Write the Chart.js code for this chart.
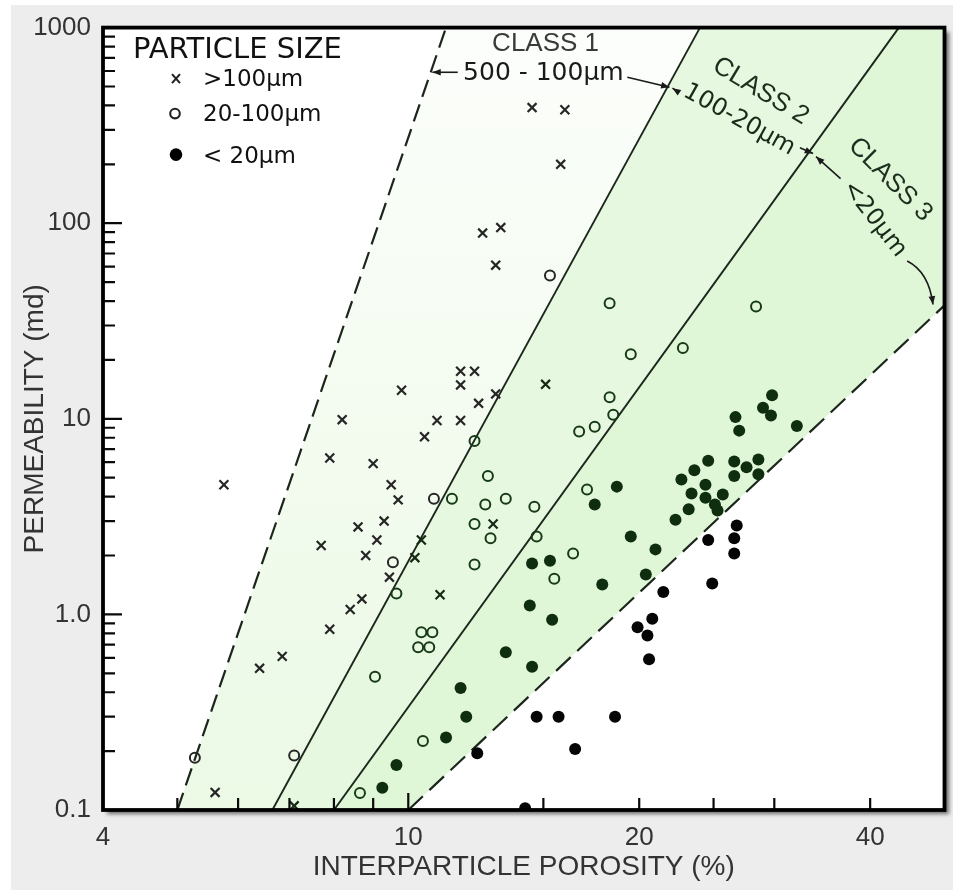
<!DOCTYPE html>
<html><head><meta charset="utf-8">
<script src="https://cdn.jsdelivr.net/npm/chart.js@4.4.1/dist/chart.umd.min.js"></script>
<style>html,body{margin:0;padding:0;background:#fff;}canvas{display:block;}</style>
</head><body>
<canvas id="c" width="953" height="890"></canvas>
<script>
// ---------- axis ranges & ticks ----------
const X_MIN = 4, X_MAX = 50, Y_MIN = 0.1, Y_MAX = 1000;
const xTickValues = [4, 10, 20, 40];
const xTickLabels = ['4', '10', '20', '40'];
const yTickValues = [0.1, 1, 10, 100, 1000];
const yTickLabels = ['0.1', '1.0', '10', '100', '1000'];
const xMinorTicks = [5, 6, 7, 8, 9, 10, 15, 20, 25, 30, 40];
const xTitle = 'INTERPARTICLE POROSITY (%)';
const yTitle = 'PERMEABILITY (md)';

// ---------- series (porosity %, permeability md) ----------
const seriesNames = ['>100\u03bcm', '20-100\u03bcm', '< 20\u03bcm'];
const legendTitle = 'PARTICLE SIZE';

const coarseX = [14.5, 16.0, 15.8, 12.5, 13.2, 13.0, 5.75, 8.2, 9.8, 11.7, 12.2, 11.7, 12.35, 13.0, 15.1, 10.9, 11.7, 10.5, 7.9, 9.0, 9.5, 9.7, 8.6, 9.3, 12.9, 7.7, 9.1, 10.4, 8.8, 10.2, 9.45, 8.7, 8.4, 11.0, 7.9, 6.85, 6.4, 5.6, 7.1];
const coarseY = [390, 380, 200, 89, 95, 61, 4.6, 9.9, 14, 17.5, 17.5, 14.9, 12, 13.4, 15, 9.8, 9.8, 8.1, 6.3, 5.9, 4.6, 3.85, 2.8, 3.0, 2.9, 2.25, 2.4, 2.4, 2.0, 1.95, 1.55, 1.2, 1.06, 1.26, 0.84, 0.61, 0.53, 0.123, 0.105];

const mediumX = [15.3, 18.3, 19.5, 22.8, 28.4, 18.3, 18.5, 16.7, 17.5, 12.2, 12.7, 10.8, 11.4, 12.6, 13.4, 14.6, 12.2, 12.8, 14.7, 17.1, 16.4, 15.5, 9.55, 12.2, 9.65, 10.4, 10.75, 10.3, 10.65, 9.05, 10.45, 8.65, 5.27, 7.1];
const mediumY = [54, 39, 21.4, 23, 37.5, 12.9, 10.5, 8.6, 9.1, 7.7, 5.1, 3.9, 3.9, 3.65, 3.9, 3.55, 2.9, 2.45, 2.5, 4.35, 2.05, 1.52, 1.85, 1.8, 1.28, 0.81, 0.81, 0.68, 0.68, 0.48, 0.225, 0.122, 0.185, 0.19];

const fineX = [29.8, 29.0, 29.7, 26.7, 27.0, 32.1, 24.6, 23.6, 22.7, 26.6, 27.6, 28.6, 26.6, 28.6, 24.4, 23.4, 24.4, 25.7, 25.1, 25.3, 23.2, 22.3, 18.7, 17.5, 19.5, 15.3, 14.5, 21.0, 20.4, 17.9, 14.4, 15.4, 13.4, 14.5, 11.7, 11.9, 11.2, 9.65, 9.25, 26.8, 26.6, 26.6, 24.6, 24.9, 21.5, 20.8, 19.9, 20.5, 20.6, 14.7, 15.7, 18.6, 16.5, 12.3, 14.2];
const fineY = [13.2, 11.4, 10.4, 10.2, 8.7, 9.2, 6.1, 5.45, 4.9, 6.05, 5.65, 6.2, 5.1, 5.2, 4.6, 4.15, 3.95, 4.1, 3.65, 3.4, 3.45, 3.05, 4.5, 3.65, 2.5, 1.88, 1.82, 2.15, 1.6, 1.42, 1.11, 0.94, 0.64, 0.54, 0.42, 0.30, 0.235, 0.17, 0.13, 2.85, 2.45, 2.05, 2.4, 1.44, 1.3, 0.95, 0.86, 0.78, 0.59, 0.30, 0.30, 0.30, 0.205, 0.195, 0.102];

// ---------- class boundary lines (end points) ----------
const bandLeftX = [5.0, 11.2],  bandLeftY = [0.1, 1000];
const class12X = [6.65, 24.0],  class12Y = [0.1, 1000];
const class23X = [8.0, 43.6],   class23Y = [0.1, 1000];
const bandRightX = [10.0, 50],  bandRightY = [0.1, 38];

// ---------- annotation anchors (data units) ----------
const classLabels = [
  {text: 'CLASS 1', x: 15.1, y: 830, angle: 0, font: '26px "Liberation Sans", Arial, sans-serif', color: '#3a3a3a'},
  {text: '500 - 100\u03bcm', x: 15.0, y: 584, angle: 0, font: '25px "DejaVu Sans", sans-serif', color: '#1a1a1a'},
  {text: 'CLASS 2', x: 28.8, y: 473, angle: 31, font: '26px "Liberation Sans", Arial, sans-serif', color: '#1e2e1e'},
  {text: '100-20\u03bcm', x: 27.0, y: 337, angle: 29, font: '24px "DejaVu Sans", sans-serif', color: '#1a2a1a'},
  {text: 'CLASS 3', x: 42.5, y: 167, angle: 45, font: '26px "Liberation Sans", Arial, sans-serif', color: '#1e2e1e'},
  {text: '<20\u03bcm', x: 40.5, y: 105, angle: 52, font: '24px "DejaVu Sans", sans-serif', color: '#1a2a1a'}
];
const classArrows = [
  {x1: 11.6, y1: 591, x2: 10.75, y2: 591},
  {x1: 19.3, y1: 557, x2: 21.9, y2: 496},
  {x1: 22.5, y1: 468, x2: 22.1, y2: 490},
  {x1: 32.4, y1: 243, x2: 33.7, y2: 227},
  {x1: 36.6, y1: 169, x2: 34.0, y2: 219},
  {x1: 44.7, y1: 64.1, cx: 47.7, cy: 56.4, x2: 48.3, y2: 38.4}
];

// ---------- helpers ----------
const L10 = Math.log10;
const pts = (xs, ys) => xs.map((x, i) => ({x: x, y: ys[i]}));
function xOnLine(lx, ly, y) {
  const t = (L10(y) - L10(ly[0])) / (L10(ly[1]) - L10(ly[0]));
  return Math.pow(10, L10(lx[0]) + t * (L10(lx[1]) - L10(lx[0])));
}
function yOnLine(lx, ly, x) {
  const t = (L10(x) - L10(lx[0])) / (L10(lx[1]) - L10(lx[0]));
  return Math.pow(10, L10(ly[0]) + t * (L10(ly[1]) - L10(ly[0])));
}
function inGreen(p) {
  return p && p.x > xOnLine(class12X, class12Y, p.y) && p.y > yOnLine(bandRightX, bandRightY, p.x);
}
const GREEN_MARK = '#0f2e10', DARK_MARK = '#050505';

const class1Poly = [{x: bandLeftX[0], y: bandLeftY[0]}, {x: bandLeftX[1], y: bandLeftY[1]}, {x: class12X[1], y: class12Y[1]}, {x: class12X[0], y: class12Y[0]}];
const class2Poly = [{x: class12X[0], y: class12Y[0]}, {x: class12X[1], y: class12Y[1]}, {x: class23X[1], y: class23Y[1]}, {x: class23X[0], y: class23Y[0]}];
const class3Poly = [{x: class23X[0], y: class23Y[0]}, {x: class23X[1], y: class23Y[1]}, {x: X_MAX, y: Y_MAX}, {x: bandRightX[1], y: bandRightY[1]}, {x: bandRightX[0], y: bandRightY[0]}];

function class1Fill(c) {
  const a = c.chart.chartArea;
  if (!a) return '#f2fbee';
  const g = c.chart.ctx.createLinearGradient(0, a.top, 0, a.bottom);
  g.addColorStop(0, '#fcfefb');
  g.addColorStop(1, '#ebf9e5');
  return g;
}

const polyDS = (data, color) => ({type: 'line', data: data, fill: 'shape', backgroundColor: color, borderColor: 'rgba(0,0,0,0)', borderWidth: 0.01, pointRadius: 0, tension: 0, order: 3});
const lineDS = (xs, ys, dash, w) => ({type: 'line', data: pts(xs, ys), fill: false, borderColor: '#1c261c', borderWidth: w, borderDash: dash, pointRadius: 0, tension: 0, order: 2});

// ---------- plugins ----------
const bgPlugin = {
  id: 'bgPlugin',
  beforeDraw(chart) {
    const {ctx, chartArea: a, width, height} = chart;
    ctx.save();
    ctx.fillStyle = '#ffffff';
    ctx.fillRect(0, 0, width, height);
    ctx.fillStyle = '#ededed';
    ctx.fillRect(11, 5, width - 11, height - 5);
    ctx.shadowColor = 'rgba(0,0,0,0.55)';
    ctx.shadowBlur = 4; ctx.shadowOffsetX = 4; ctx.shadowOffsetY = 4;
    ctx.fillStyle = '#ffffff';
    ctx.fillRect(a.left, a.top, a.right - a.left, a.bottom - a.top);
    ctx.restore();
  }
};

function arrowHead(ctx, x, y, ang, len) {
  ctx.beginPath();
  ctx.moveTo(x, y);
  ctx.lineTo(x - len * Math.cos(ang - 0.38), y - len * Math.sin(ang - 0.38));
  ctx.lineTo(x - len * Math.cos(ang + 0.38), y - len * Math.sin(ang + 0.38));
  ctx.closePath();
  ctx.fill();
}

const overlayPlugin = {
  id: 'overlayPlugin',
  afterDatasetsDraw(chart) {
    const {ctx, chartArea: a, scales} = chart;
    const X = v => scales.x.getPixelForValue(v);
    const Y = v => scales.y.getPixelForValue(v);
    ctx.save();
    // inward tick marks
    ctx.strokeStyle = '#0a0a0a';
    ctx.lineWidth = 2.2;
    ctx.beginPath();
    yTickValues.forEach(v => { const py = Y(v); ctx.moveTo(a.left, py); ctx.lineTo(a.left + 19, py); });
    yTickValues.slice(0, -1).forEach(d => {
      for (let k = 2; k <= 9; k++) { const py = Y(k * d); ctx.moveTo(a.left, py); ctx.lineTo(a.left + 12, py); }
    });
    xMinorTicks.forEach(v => { const px = X(v); ctx.moveTo(px, a.bottom); ctx.lineTo(px, a.bottom - (v === 10 ? 17 : 12)); });
    ctx.stroke();
    // frame
    ctx.lineWidth = 3.8;
    ctx.strokeStyle = '#000';
    ctx.strokeRect(a.left, a.top, a.right - a.left, a.bottom - a.top);

    // legend
    ctx.fillStyle = '#111';
    ctx.textAlign = 'left';
    ctx.textBaseline = 'alphabetic';
    ctx.font = '29px "DejaVu Sans", sans-serif';
    ctx.fillText(legendTitle, a.left + 30, a.top + 30);
    ctx.font = '23px "DejaVu Sans", sans-serif';
    const mx = a.left + 73;
    const rows = [a.top + 51, a.top + 86, a.top + 127];
    // cross marker
    ctx.strokeStyle = '#222'; ctx.lineWidth = 2.1;
    ctx.beginPath();
    ctx.moveTo(mx - 4, rows[0] - 4.5); ctx.lineTo(mx + 4, rows[0] + 4.5);
    ctx.moveTo(mx + 4, rows[0] - 4.5); ctx.lineTo(mx - 4, rows[0] + 4.5);
    ctx.stroke();
    // open circle
    ctx.beginPath(); ctx.arc(mx - 1, rows[1], 4.8, 0, Math.PI * 2); ctx.stroke();
    // filled dot
    ctx.fillStyle = '#000';
    ctx.beginPath(); ctx.arc(mx, rows[2], 6.3, 0, Math.PI * 2); ctx.fill();
    ctx.fillStyle = '#111';
    ctx.fillText(seriesNames[0], a.left + 100, a.top + 58);
    ctx.fillText(seriesNames[1], a.left + 100, a.top + 93);
    ctx.fillText(seriesNames[2], a.left + 100, a.top + 135);

    // class labels
    ctx.textAlign = 'center';
    ctx.textBaseline = 'middle';
    classLabels.forEach(l => {
      ctx.save();
      ctx.translate(X(l.x), Y(l.y));
      ctx.rotate(l.angle * Math.PI / 180);
      ctx.font = l.font;
      ctx.fillStyle = l.color;
      ctx.fillText(l.text, 0, 0);
      ctx.restore();
    });
    // arrows
    ctx.strokeStyle = '#1a1a1a';
    ctx.fillStyle = '#1a1a1a';
    ctx.lineWidth = 1.6;
    classArrows.forEach(r => {
      const x1 = X(r.x1), y1 = Y(r.y1), x2 = X(r.x2), y2 = Y(r.y2);
      ctx.beginPath();
      ctx.moveTo(x1, y1);
      let ang;
      if (r.cx !== undefined) {
        const cx = X(r.cx), cy = Y(r.cy);
        ctx.quadraticCurveTo(cx, cy, x2, y2);
        ang = Math.atan2(y2 - cy, x2 - cx);
      } else {
        ctx.lineTo(x2, y2);
        ang = Math.atan2(y2 - y1, x2 - x1);
      }
      ctx.stroke();
      arrowHead(ctx, x2, y2, ang, 9);
    });
    ctx.restore();
  }
};

// ---------- chart ----------
const axisFont = {family: '"Liberation Sans", Arial, sans-serif', size: 26};
const titleFont = {family: '"Liberation Sans", Arial, sans-serif', size: 28};

new Chart(document.getElementById('c'), {
  type: 'scatter',
  data: {
    datasets: [
      {
        label: seriesNames[0], data: pts(coarseX, coarseY), order: 1,
        pointStyle: 'crossRot', pointRadius: 6.3, pointBorderWidth: 2.2,
        pointBorderColor: c => inGreen(c.raw) ? '#152a15' : '#262626'
      },
      {
        label: seriesNames[1], data: pts(mediumX, mediumY), order: 1,
        pointStyle: 'circle', pointRadius: 5, pointBorderWidth: 2,
        pointBackgroundColor: 'rgba(0,0,0,0)',
        pointBorderColor: c => inGreen(c.raw) ? '#173a17' : '#262626'
      },
      {
        label: seriesNames[2], data: pts(fineX, fineY), order: 1,
        pointStyle: 'circle', pointRadius: 6, pointBorderWidth: 0,
        pointBackgroundColor: c => inGreen(c.raw) ? GREEN_MARK : DARK_MARK,
        pointBorderColor: 'rgba(0,0,0,0)'
      },
      lineDS(bandLeftX, bandLeftY, [18, 8], 2.2),
      lineDS(class12X, class12Y, [], 1.9),
      lineDS(class23X, class23Y, [], 1.9),
      lineDS(bandRightX, bandRightY, [20, 9], 2.2),
      polyDS(class1Poly, class1Fill),
      polyDS(class2Poly, '#e6f8df'),
      polyDS(class3Poly, '#dff7d7')
    ]
  },
  options: {
    responsive: false,
    animation: false,
    devicePixelRatio: 1,
    events: [],
    layout: {padding: {left: 0, top: 22, right: 8, bottom: 0}},
    plugins: {legend: {display: false}, tooltip: {enabled: false}},
    scales: {
      x: {
        type: 'logarithmic', min: X_MIN, max: X_MAX, position: 'bottom',
        grid: {display: false, drawTicks: false}, border: {display: false},
        afterBuildTicks: s => { s.ticks = xTickValues.map(v => ({value: v})); },
        afterFit: s => { s.height = 80; },
        ticks: {autoSkip: false, maxRotation: 0, minRotation: 0, padding: 12, font: axisFont, color: '#333',
                callback: (v, i) => xTickLabels[i]},
        title: {display: true, text: xTitle, font: titleFont, color: '#333', padding: {top: 0, bottom: 6}}
      },
      y: {
        type: 'logarithmic', min: Y_MIN, max: Y_MAX, position: 'left',
        grid: {display: false, drawTicks: false}, border: {display: false},
        afterBuildTicks: s => { s.ticks = yTickValues.map(v => ({value: v})); },
        afterFit: s => { s.width = 103; },
        ticks: {autoSkip: false, padding: 12, font: axisFont, color: '#333',
                callback: (v, i) => yTickLabels[i]},
        title: {display: true, text: yTitle, font: titleFont, color: '#333', padding: {top: 18, bottom: 0}}
      }
    }
  },
  plugins: [bgPlugin, overlayPlugin]
});
</script>
</body></html>
